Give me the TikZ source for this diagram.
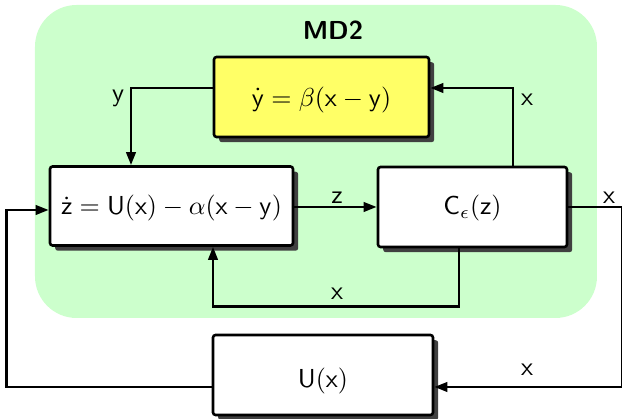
\documentclass[tikz,border=0pt]{standalone}
\usetikzlibrary{arrows.meta,shadows,calc}
\definecolor{bggreen}{HTML}{CCFFCC}
\definecolor{boxyellow}{HTML}{FFFF66}
\def\pu{0.3846pt}
\begin{document}
\begin{tikzpicture}[x=0.3846pt,y=-0.3846pt,
  font=\sffamily,
  blockbox/.style={draw=black, line width=1pt, rounded corners=1pt, fill=white,
    drop shadow={shadow xshift=2pt, shadow yshift=-2pt, fill=black!75, opacity=1}},
  conn/.style={line width=1pt},
  arr/.style={conn, -{Triangle[length=5pt,width=3.6pt]}},
  lbl/.style={inner sep=1pt}]
\useasboundingbox (0,0) rectangle (622,419);
\fill[bggreen, rounded corners=16pt] (35,5) rectangle (597,318);
\node[font=\sffamily\bfseries] (title) at (333,30) {MD2};
\node[blockbox, fill=boxyellow, minimum width=215*\pu, minimum height=80*\pu, text height=9.5pt, text depth=2.5pt] (yb) at (321.5,97) {$\dot{\mathsf{y}}=\beta(\mathsf{x}-\mathsf{y})$};
\node[blockbox, minimum width=243*\pu, minimum height=79*\pu, text height=9pt, text depth=2.5pt] (zb) at (171.5,206) {$\dot{\mathsf{z}}=\mathsf{U}(\mathsf{x})-\alpha(\mathsf{x}-\mathsf{y})$};
\node[blockbox, minimum width=189*\pu, minimum height=80*\pu, text height=8.5pt, text depth=2.5pt] (cb) at (472.5,207) {$\mathsf{C}_\epsilon(\mathsf{z})$};
\node[blockbox, minimum width=220*\pu, minimum height=80*\pu, text height=12.5pt, text depth=2.5pt] (ub) at (323,375) {$\mathsf{U}(\mathsf{x})$};
% z -> C
\draw[arr] (cb.west -| zb.east) -- (cb.west);
\node[lbl] (lz) at (337,198) {z};
% C top -> yellow right
\draw[arr] ($(cb.north)+(40.5,0)$) |- ($(yb.east)+(0,-9)$);
\node[lbl] (lx1) at (527,100) {x};
% yellow left -> z top
\draw[arr] ($(yb.west)+(0,-9)$) -| ($(zb.north)+(-40.5,0)$);
\node[lbl] (ly) at (118,98) {y};
% C bottom -> z bottom
\draw[arr] ($(cb.south)+(-13.5,0)$) -- ++(0,58) -| ($(zb.south)+(41.5,0)$);
\node[lbl] (lx2) at (337,294) {x};
% C right -> U right
\draw[arr] (cb.east) -- ++(54,0) |- ($(ub.east)+(0,12)$);
\node[lbl] (lx3) at (609,198) {x};
\node[lbl] (lx4) at (527,370) {x};
% U left -> z left
\draw[arr] ($(ub.west)+(0,12)$) -- ++(-205,0) |- ($(zb.west)+(0,4)$);
\end{tikzpicture}
\end{document}
